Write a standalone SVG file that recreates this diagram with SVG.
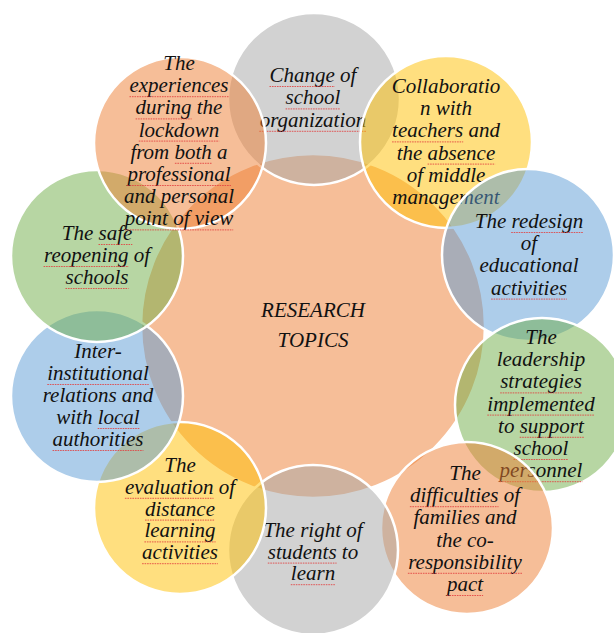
<svg xmlns="http://www.w3.org/2000/svg" width="614" height="633" viewBox="0 0 614 633">
<style>
.c{stroke:#fff;stroke-width:2.5;fill-opacity:0.5}
.or{fill:#ED7D31}.gr{fill:#A5A5A5}.ye{fill:#FFC000}.bl{fill:#5B9BD5}.gn{fill:#70AD47}
text{font-family:"Liberation Serif","Times New Roman",serif;font-style:italic;font-size:21px;fill:#111;text-anchor:middle}
.ul{fill:none;stroke:#e2403f;stroke-width:1;stroke-dasharray:1.6 0.9;stroke-opacity:0.85}
</style>
<rect width="614" height="633" fill="#fff"/>
<g id="center">
<circle class="c or" cx="313" cy="326" r="172"/>
<text x="313" y="317">RESEARCH<tspan x="313" dy="30">TOPICS</tspan></text>
</g>
<g id="n1">
<circle class="c gr" cx="314" cy="99" r="86"/>
<text x="313" y="82">Change of<tspan x="313" dy="22.4">school</tspan><tspan x="313" dy="22.4">organization</tspan></text>
<path class="ul" d="M269.5 86.5H334.8M285.6 108.9H340.4M259.3 131.3H366.7"/>
</g>
<g id="n2">
<circle class="c ye" cx="446" cy="142" r="86"/>
<text x="446" y="93">Collaboratio<tspan x="446" dy="22.2">n with</tspan><tspan x="446" dy="22.2">teachers and</tspan><tspan x="446" dy="22.2">the absence</tspan><tspan x="446" dy="22.2">of middle</tspan><tspan x="446" dy="22.2">management</tspan></text>
<path class="ul" d="M392.1 141.9H463.2M427.6 164.1H495.2"/>
</g>
<g id="n3">
<circle class="c bl" cx="528" cy="255" r="86"/>
<text x="529" y="228">The redesign<tspan x="529" dy="22.2">of</tspan><tspan x="529" dy="22.2">educational</tspan><tspan x="529" dy="22.2">activities</tspan></text>
<path class="ul" d="M511.2 232.5H583.6M491.1 299.1H566.9"/>
</g>
<g id="n4">
<circle class="c gn" cx="542" cy="405" r="87"/>
<text x="541" y="344">The<tspan x="541" dy="22.2">leadership</tspan><tspan x="541" dy="22.2">strategies</tspan><tspan x="541" dy="22.2">implemented</tspan><tspan x="541" dy="22.2">to support</tspan><tspan x="541" dy="22.2">school</tspan><tspan x="541" dy="22.2">personnel</tspan></text>
<path class="ul" d="M500.2 392.9H581.8M487.3 415.1H594.7M519.7 437.3H583.9M513.6 459.5H568.4M499.6 481.7H582.4"/>
</g>
<g id="n5">
<circle class="c or" cx="467" cy="528" r="86"/>
<text x="465" y="480">The<tspan x="465" dy="22.2">difficulties of</tspan><tspan x="465" dy="22.2">families and</tspan><tspan x="465" dy="22.2">the co-</tspan><tspan x="465" dy="22.2">responsibility</tspan><tspan x="465" dy="22.2">pact</tspan></text>
<path class="ul" d="M409.9 506.7H498.5M407.9 573.3H522.1M446.9 595.5H483.1"/>
</g>
<g id="n6">
<circle class="c gr" cx="313" cy="550" r="85"/>
<text x="313" y="537">The right of<tspan x="313" dy="21.6">students to</tspan><tspan x="313" dy="21.6">learn</tspan></text>
<path class="ul" d="M267.8 563.1H336.6M290.8 584.7H335.2"/>
</g>
<g id="n7">
<circle class="c ye" cx="180" cy="508" r="86"/>
<text x="180" y="472">The<tspan x="180" dy="21.8">evaluation of</tspan><tspan x="180" dy="21.8">distance</tspan><tspan x="180" dy="21.8">learning</tspan><tspan x="180" dy="21.8">activities</tspan></text>
<path class="ul" d="M124.9 498.3H213.5M145 520.1H215M144.4 541.9H215.6M142.1 563.7H217.9"/>
</g>
<g id="n8">
<circle class="c bl" cx="97" cy="396" r="86"/>
<text x="98" y="358">Inter-<tspan x="98" dy="22">institutional</tspan><tspan x="98" dy="22">relations and</tspan><tspan x="98" dy="22">with local</tspan><tspan x="98" dy="22">authorities</tspan></text>
<path class="ul" d="M47.3 384.5H148.7M97.7 428.5H139.7M52.6 450.5H143.4"/>
</g>
<g id="n9">
<circle class="c gn" cx="97" cy="256" r="86"/>
<text x="97" y="240">The safe<tspan x="97" dy="22">reopening of</tspan><tspan x="97" dy="22">schools</tspan></text>
<path class="ul" d="M98.5 244.5H132.3M43.6 266.5H128.8M65.5 288.5H128.5"/>
</g>
<g id="n10">
<circle class="c or" cx="180" cy="143" r="86"/>
<text x="179" y="70">The<tspan x="179" dy="22.2">experiences</tspan><tspan x="179" dy="22.2">during the</tspan><tspan x="179" dy="22.2">lockdown</tspan><tspan x="179" dy="22.2">from both a</tspan><tspan x="179" dy="22.2">professional</tspan><tspan x="179" dy="22.2">and personal</tspan><tspan x="179" dy="22.2">point of view</tspan></text>
<path class="ul" d="M129.5 96.7H228.5M135.6 118.9H191.6M138.8 141.1H219.2M174.9 163.3H212.2M127.1 185.5H230.9M124.8 229.9H233.2"/>
</g>
<g id="connectors"></g>
</svg>
